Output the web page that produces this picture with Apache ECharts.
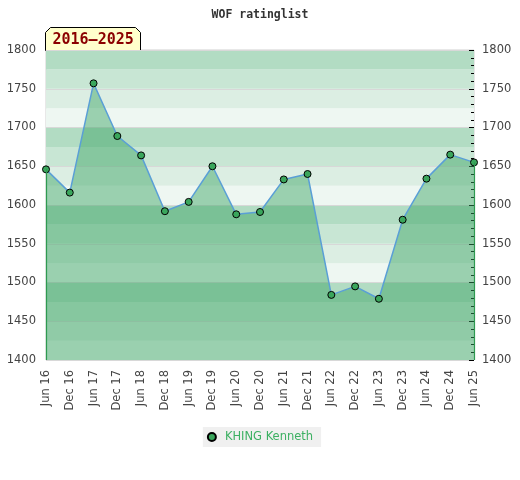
<!DOCTYPE html>
<html>
<head>
<meta charset="utf-8">
<script src="https://cdn.jsdelivr.net/npm/echarts@6/dist/echarts.min.js"></script>
<style>
	html, body { margin: 0; padding: 0; background: #fff; }
	#main { width: 520px; height: 480px; }
</style>
</head>
<body>
<div id="main"></div>
<script>
// half-year rating points
var categories = ["Jun 16", "Dec 16", "Jun 17", "Dec 17", "Jun 18", "Dec 18", "Jun 19", "Dec 19", "Jun 20", "Dec 20",
	"Jun 21", "Dec 21", "Jun 22", "Dec 22", "Jun 23", "Dec 23", "Jun 24", "Dec 24", "Jun 25"];
var ratings = [1646, 1616, 1757, 1689, 1664, 1592, 1604, 1650, 1588, 1591,
	1633, 1640, 1484, 1495, 1479, 1581, 1634, 1665, 1655];
var playerName = "KHING Kenneth";
var chartTitle = "WOF ratinglist";
var periodLabel = "2016\u20132025";
var yMin = 1400, yMax = 1800;

var chart = echarts.init(document.getElementById('main'));

var labelFont = { color: '#444', fontSize: 11.5, fontFamily: 'DejaVu Sans' };
var lastIdx = categories.length - 1;

function plainNum(v) {
	return String(v);
}

var option = {
	animation: false,
	title: {
		text: chartTitle,
		left: 'center',
		top: 4,
		textStyle: { fontFamily: 'DejaVu Sans Mono', fontSize: 11.5, fontWeight: 'bold', color: '#333' }
	},
	legend: {
		data: [playerName],
		top: 427,
		left: 'center',
		backgroundColor: '#f0f0f0',
		padding: [4, 8, 4, 4],
		icon: 'circle',
		itemWidth: 16,
		itemHeight: 8,
		itemGap: 8,
		textStyle: { color: '#3cb062', fontSize: 11.5, fontFamily: 'DejaVu Sans' }
	},
	grid: {
		left: 46, right: 46, top: 50, bottom: 120,
		outerBoundsMode: 'none',
		containLabel: false,
		show: true,
		borderColor: '#d0d0d0',
		borderWidth: 1,
		backgroundColor: 'transparent'
	},
	xAxis: {
		type: 'category',
		data: categories,
		boundaryGap: false,
		axisLine: { show: false },
		axisTick: { show: false },
		axisLabel: { rotate: 90, margin: 10, interval: 0, color: '#444', fontSize: 11.5, fontFamily: 'DejaVu Sans' }
	},
	yAxis: [{
		type: 'value', position: 'left',
		min: yMin, max: yMax, interval: 50, z: 1,
		axisLine: { show: false },
		axisTick: { show: false },
		axisLabel: Object.assign({ margin: 10, formatter: plainNum }, labelFont),
		splitLine: { show: true, lineStyle: { color: '#d8d8d8', width: 1 } }
	}, {
		type: 'value', position: 'right',
		min: yMin, max: yMax, interval: 50, z: 1,
		axisLine: { show: false },
		axisTick: { show: true, inside: true, length: 5, lineStyle: { color: '#000' } },
		minorTick: { show: true, splitNumber: 5, length: 3, lineStyle: { color: '#000' } },
		axisLabel: Object.assign({ margin: 8, formatter: plainNum }, labelFont),
		splitLine: { show: false }
	}, {
		// background bands, 25 units each
		type: 'value', position: 'left',
		min: yMin, max: yMax, interval: 25, z: 0,
		axisLine: { show: false },
		axisTick: { show: false },
		axisLabel: { show: false },
		splitLine: { show: false },
		splitArea: { show: true, areaStyle: { color: ['#eef7f2', '#dceee3', '#c8e6d4', '#b2dcc3'] } }
	}],
	series: [{
		name: playerName,
		type: 'line',
		data: ratings,
		z: 3,
		symbol: 'circle',
		symbolSize: 7,
		itemStyle: { color: '#3aa65c', borderColor: '#000', borderWidth: 1 },
		lineStyle: { color: '#5a9fd6', width: 1.5 },
		areaStyle: { color: 'rgb(60,164,100)', opacity: 0.47, origin: 'start' },
		markLine: {
			silent: true,
			symbol: 'none',
			label: { show: false },
			lineStyle: { color: '#2e9a50', width: 1.2, type: 'solid' },
			data: [
				[{ coord: [categories[0], yMin] }, { coord: [categories[0], ratings[0]] }],
				[{ coord: [categories[lastIdx], yMin] }, { coord: [categories[lastIdx], ratings[lastIdx]] }]
			]
		}
	}],
	graphic: [{
		type: 'group',
		left: 45,
		top: 27,
		children: [{
			type: 'polygon',
			shape: { points: [[0, 5], [5, 0], [90, 0], [95, 5], [95, 23], [0, 23]] },
			style: { fill: '#ffffcc', stroke: '#000', lineWidth: 1 }
		}, {
			type: 'text',
			left: 7,
			top: 5,
			style: { text: periodLabel, fill: '#8b0000', font: 'bold 15px "DejaVu Sans Mono"' }
		}]
	}]
};

chart.setOption(option);
</script>
</body>
</html>
